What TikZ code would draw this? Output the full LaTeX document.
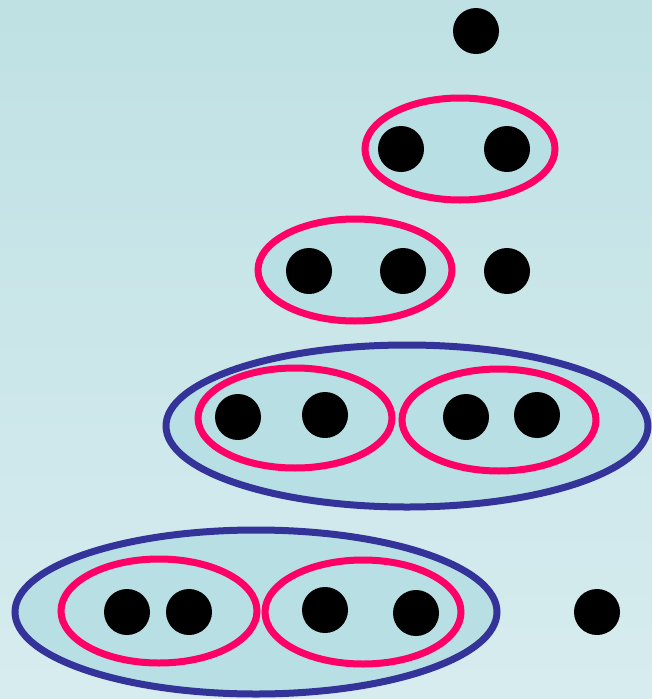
\documentclass[tikz,border=0pt]{standalone}
\begin{document}
\definecolor{bgtop}{HTML}{BFE1E4}
\definecolor{bgbot}{HTML}{D7ECEF}
\definecolor{fillc}{HTML}{B8DFE3}
\definecolor{redc}{HTML}{FF0066}
\definecolor{bluec}{HTML}{333399}
\begin{tikzpicture}[x=1pt,y=-1pt,
  redell/.style={draw=redc,line width=7pt,fill=fillc},
  blueell/.style={draw=bluec,line width=7pt,fill=fillc},
  dot/.style={fill=black}]
\shade[top color=bgtop,bottom color=bgbot] (0,0) rectangle (652,699);
\useasboundingbox (0,0) rectangle (652,699);
% top
\fill[dot] (476,31) circle (23);
% row 1
\draw[redell] (460,149) ellipse (95 and 51);
\fill[dot] (401,149) circle (23);
\fill[dot] (507,149) circle (23);
% row 2
\draw[redell] (355,270) ellipse (97 and 51);
\fill[dot] (309,271) circle (23);
\fill[dot] (403,271) circle (23);
\fill[dot] (507,271) circle (23);
% row 3
\draw[blueell] (407,426) ellipse (241 and 81);
\draw[redell] (295,418) ellipse (97 and 50);
\draw[redell] (499,420) ellipse (97 and 51);
\fill[dot] (238,417) circle (23);
\fill[dot] (325,415) circle (23);
\fill[dot] (466,417) circle (23);
\fill[dot] (537,415) circle (23);
% row 4
\draw[blueell] (256,612) ellipse (241 and 82);
\draw[redell] (159,611) ellipse (98 and 52);
\draw[redell] (363,612) ellipse (98 and 52);
\fill[dot] (127,612) circle (23);
\fill[dot] (189,612) circle (23);
\fill[dot] (325,610) circle (23);
\fill[dot] (416,613) circle (23);
\fill[dot] (597,612) circle (23);
\end{tikzpicture}
\end{document}
